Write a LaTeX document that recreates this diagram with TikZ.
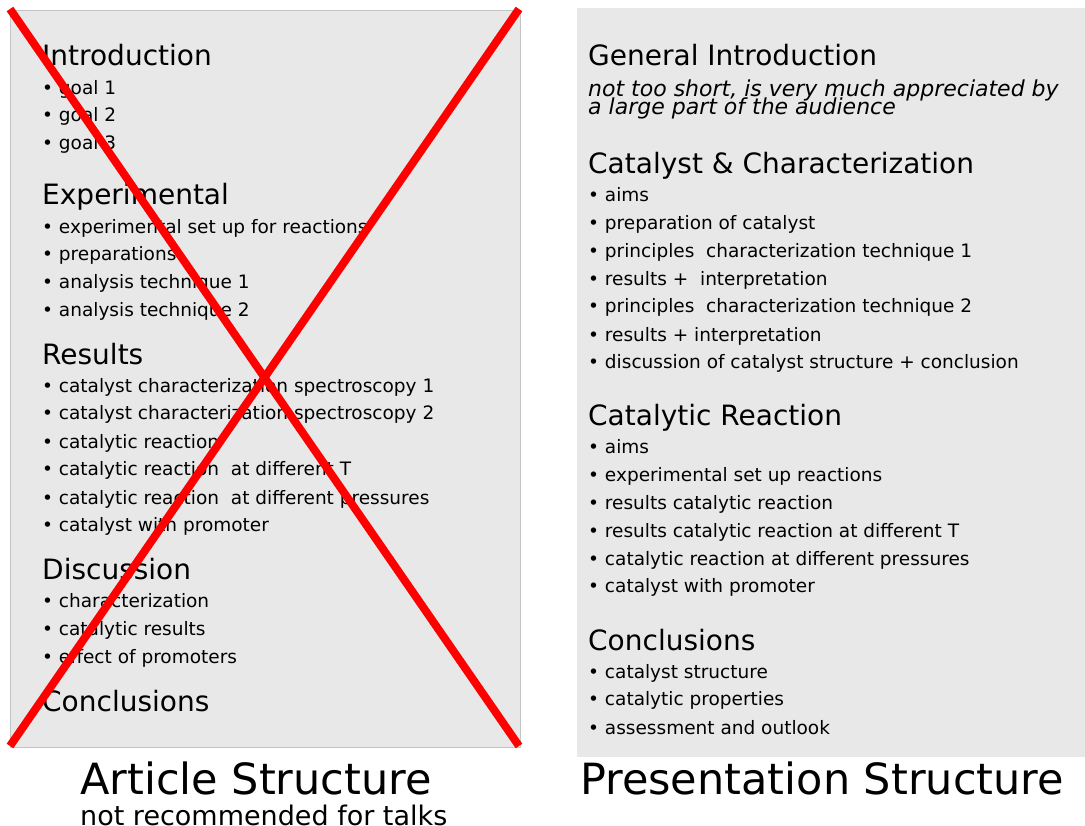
\documentclass[tikz,border=0pt]{standalone}
\usepackage{xcolor}
\usepackage{fontspec}
\setmainfont{DejaVu Sans}
\usepackage{tikz}
\usetikzlibrary{positioning}

\definecolor{boxgray}{HTML}{E8E8E8}
\definecolor{linegray}{HTML}{C4C4C4}

\begin{document}
\begin{tikzpicture}[x=1pt, y=-1pt,
    head/.style = {anchor=mid west, inner sep=0pt, yshift=-6pt, font=\fontsize{28}{32}\selectfont},
    entry/.style = {anchor=mid west, inner sep=0pt, yshift=-4pt, font=\fontsize{18.5}{22}\selectfont},
    note/.style = {anchor=mid west, inner sep=0pt, align=left, font=\fontsize{22}{18}\selectfont\itshape},
    title/.style = {anchor=mid west, inner sep=0pt, yshift=-11pt, font=\fontsize{43}{48}\selectfont}]
    \useasboundingbox (0,0) rectangle (1085,826);
    % the two panels
    \fill[boxgray] (577,8) rectangle (1085,757);
    \draw[linegray, fill=boxgray] (10,10) rectangle (520,747);
    % article structure
    \node[head]  (intro) at (42,57)  {Introduction};
    \node[entry] (g1)    at (42,88)  {• goal 1};
    \node[entry] (g2)    at (42,115) {• goal 2};
    \node[entry] (g3)    at (42,143) {• goal 3};
    \node[head]  (exp)   at (42,196) {Experimental};
    \node[entry] (e1)    at (42,227) {• experimental set up for reactions};
    \node[entry] (e2)    at (42,254) {• preparations};
    \node[entry] (e3)    at (42,282) {• analysis technique 1};
    \node[entry] (e4)    at (42,310) {• analysis technique 2};
    \node[head]  (res)   at (42,356) {Results};
    \node[entry] (r1)    at (42,386) {• catalyst characterization spectroscopy 1};
    \node[entry] (r2)    at (42,413) {• catalyst characterization spectroscopy 2};
    \node[entry] (r3)    at (42,442) {• catalytic reaction};
    \node[entry] (r4)    at (42,469) {• catalytic reaction~ at different T};
    \node[entry] (r5)    at (42,498) {• catalytic reaction~ at different pressures};
    \node[entry] (r6)    at (42,525) {• catalyst with promoter};
    \node[head]  (disc)  at (42,571) {Discussion};
    \node[entry] (d1)    at (42,601) {• characterization};
    \node[entry] (d2)    at (42,629) {• catalytic results};
    \node[entry] (d3)    at (42,657) {• effect of promoters};
    \node[head]  (concl) at (42,703) {Conclusions};
    % crossed out
    \coordinate (xtl) at (10,9);
    \coordinate (xtr) at (519,9);
    \coordinate (xbl) at (10,746);
    \coordinate (xbr) at (519,746);
    \draw[red, line width=8pt] (xtl) -- (xbr);
    \draw[red, line width=8pt] (xtr) -- (xbl);
    % presentation structure
    \node[head]  (gen)   at (588,57)  {General Introduction};
    \node[note]  (gnote) at (588,112) {not too short, is very much appreciated by\\[-4pt]a large part of the audience};
    \node[head]  (cat)   at (588,165) {Catalyst \& Characterization};
    \node[entry] (c1)    at (588,195) {• aims};
    \node[entry] (c2)    at (588,223) {• preparation of catalyst};
    \node[entry] (c3)    at (588,251) {• principles~ characterization technique 1};
    \node[entry] (c4)    at (588,279) {• results +~ interpretation};
    \node[entry] (c5)    at (588,306) {• principles~ characterization technique 2};
    \node[entry] (c6)    at (588,335) {• results + interpretation};
    \node[entry] (c7)    at (588,362) {• discussion of catalyst structure + conclusion};
    \node[head]  (react) at (588,417) {Catalytic Reaction};
    \node[entry] (k1)    at (588,447) {• aims};
    \node[entry] (k2)    at (588,475) {• experimental set up reactions};
    \node[entry] (k3)    at (588,503) {• results catalytic reaction};
    \node[entry] (k4)    at (588,531) {• results catalytic reaction at different T};
    \node[entry] (k5)    at (588,559) {• catalytic reaction at different pressures};
    \node[entry] (k6)    at (588,586) {• catalyst with promoter};
    \node[head]  (pconc) at (588,642) {Conclusions};
    \node[entry] (p1)    at (588,672) {• catalyst structure};
    \node[entry] (p2)    at (588,699) {• catalytic properties};
    \node[entry] (p3)    at (588,728) {• assessment and outlook};
    % captions
    \node[title] (atitle) at (80,781) {Article Structure};
    \node[entry, font=\fontsize{27}{30}\selectfont] (asub) at (80,819) {not recommended for talks};
    \node[title] (ptitle) at (580,781) {Presentation Structure};
\end{tikzpicture}
\end{document}
